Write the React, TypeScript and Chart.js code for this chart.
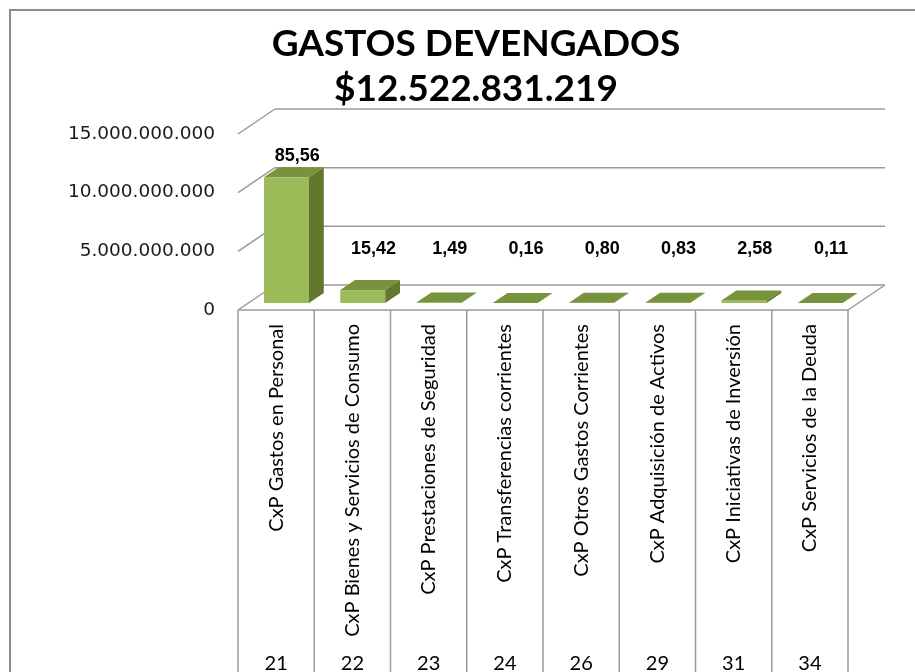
import React, { useEffect, useRef } from "react";
import { Chart, registerables } from "chart.js";

Chart.register(...registerables);

const TITLE_LINES = ["GASTOS DEVENGADOS", "$12.522.831.219"];
const CATEGORIES = [
  "CxP Gastos en Personal",
  "CxP Bienes y Servicios de Consumo",
  "CxP Prestaciones de Seguridad",
  "CxP Transferencias corrientes",
  "CxP Otros Gastos Corrientes",
  "CxP Adquisición de Activos",
  "CxP Iniciativas de Inversión",
  "CxP Servicios de la Deuda",
];
const CODES = ["21", "22", "23", "24", "26", "29", "31", "34"];
const VALUES = [10710000000, 1100000000, 50000000, 10000000, 30000000, 30000000, 220000000, 10000000];
const DATA_LABELS = ["85,56", "15,42", "1,49", "0,16", "0,80", "0,83", "2,58", "0,11"];
const Y_MIN = 0;
const Y_MAX = 15000000000;
const Y_STEP = 5000000000;

// 3D geometry (pixels)
const DX = 37;
const DY = 25;
const F0 = 0.28;
const F1 = 0.68;

const FRONT = "#9BBB59";
const TOP = "#77933C";
const SIDE = "#63782F";
const GRID = "#9a9a9a";

function fmt(v: number): string {
  return Math.round(v).toString().replace(/\B(?=(\d{3})+(?!\d))/g, ".");
}

const depthPlugin = {
  id: "depth3d",
  beforeDraw(chart: any) {
    const { ctx } = chart;
    ctx.save();
    ctx.fillStyle = "#ffffff";
    ctx.fillRect(0, 0, chart.width, chart.height);
    ctx.restore();
  },
  beforeDatasetsDraw(chart: any) {
    const { ctx, chartArea: a, scales } = chart;
    const y = scales.y;
    const x = scales.x;
    const line = (x1: number, y1: number, x2: number, y2: number) => {
      ctx.beginPath();
      ctx.moveTo(x1, y1);
      ctx.lineTo(x2, y2);
      ctx.stroke();
    };
    ctx.save();
    ctx.strokeStyle = GRID;
    ctx.lineWidth = 1.5;
    for (let v = Y_MIN; v <= Y_MAX; v += Y_STEP) {
      const py = y.getPixelForValue(v);
      line(a.left, py, a.left + DX, py - DY);
      line(a.left + DX, py - DY, a.right + DX, py - DY);
    }
    const p0 = y.getPixelForValue(0);
    line(a.right, p0, a.right + DX, p0 - DY);
    line(a.left, p0, a.right, p0);
    const n = CATEGORIES.length;
    const w = (x.right - x.left) / n;
    for (let i = 0; i <= n; i++) {
      const px = x.left + i * w;
      line(px, p0, px, chart.height);
    }
    ctx.restore();
  },
  afterDatasetsDraw(chart: any) {
    const { ctx, scales } = chart;
    const meta = chart.getDatasetMeta(0);
    const sx = DX * (F1 - F0);
    const sy = DY * (F1 - F0);
    ctx.save();
    meta.data.forEach((bar: any, i: number) => {
      const p = bar.getProps(["x", "y", "base", "width"], true);
      const l = p.x - p.width / 2 + DX * F0;
      const r = p.x + p.width / 2 + DX * F0;
      const t = p.y - DY * F0;
      const b = p.base - DY * F0;
      ctx.fillStyle = FRONT;
      ctx.fillRect(l, t, r - l, b - t);
      ctx.fillStyle = SIDE;
      ctx.beginPath();
      ctx.moveTo(r, t);
      ctx.lineTo(r + sx, t - sy);
      ctx.lineTo(r + sx, b - sy);
      ctx.lineTo(r, b);
      ctx.closePath();
      ctx.fill();
      ctx.fillStyle = TOP;
      ctx.beginPath();
      ctx.moveTo(l, t);
      ctx.lineTo(r, t);
      ctx.lineTo(r + sx, t - sy);
      ctx.lineTo(l + sx, t - sy);
      ctx.closePath();
      ctx.fill();

      // data label
      const lx = p.x + DX * 0.57;
      const ly = Math.min(t - sy - 11, scales.y.getPixelForValue(Y_STEP) - 2);
      ctx.fillStyle = "#000000";
      ctx.font = "bold 18px 'Liberation Sans', Arial, sans-serif";
      ctx.textAlign = "center";
      ctx.textBaseline = "middle";
      ctx.fillText(DATA_LABELS[i], lx, ly);
    });
    ctx.restore();
  },
  afterDraw(chart: any) {
    const { ctx } = chart;
    ctx.save();
    // outer border
    ctx.strokeStyle = "#8c8c8c";
    ctx.lineWidth = 2;
    ctx.beginPath();
    ctx.moveTo(10, chart.height + 2);
    ctx.lineTo(10, 10);
    ctx.lineTo(chart.width + 2, 10);
    ctx.stroke();
    // title
    ctx.fillStyle = "#000000";
    ctx.textAlign = "center";
    ctx.textBaseline = "alphabetic";
    ctx.font = "bold 37px Lato, 'Open Sans', sans-serif";
    ctx.fillText(TITLE_LINES[0], 476, 56);
    ctx.fillText(TITLE_LINES[1], 476, 101);
    ctx.restore();
  },
};

export default function App() {
  const ref = useRef<HTMLCanvasElement | null>(null);
  useEffect(() => {
    if (!ref.current) return;
    const chart = new Chart(ref.current, {
      type: "bar",
      data: {
        labels: CATEGORIES,
        datasets: [
          {
            data: VALUES,
            backgroundColor: "rgba(0,0,0,0)",
            borderWidth: 0,
            categoryPercentage: 1,
            barPercentage: 0.59,
          },
        ],
      },
      options: {
        animation: false,
        responsive: false,
        events: [],
        layout: { padding: { top: 134, right: 67, left: 0, bottom: 0 } },
        plugins: {
          legend: { display: false },
          tooltip: { enabled: false },
          title: { display: false },
        },
        scales: {
          x: {
            type: "category",
            position: "bottom",
            weight: 0,
            offset: true,
            grid: { display: false, drawTicks: false },
            border: { display: false },
            ticks: {
              autoSkip: false,
              minRotation: 90,
              maxRotation: 90,
              padding: 14,
              color: "#000000",
              font: { family: "Lato, 'Open Sans', sans-serif", size: 20 },
            },
            afterFit: (s: any) => {
              s.height = 330;
            },
          },
          x2: {
            type: "category",
            position: "bottom",
            weight: 1,
            offset: true,
            labels: CODES,
            grid: { display: false, drawTicks: false },
            border: { display: false },
            ticks: {
              autoSkip: false,
              maxRotation: 0,
              minRotation: 0,
              padding: 12,
              color: "#000000",
              font: { family: "Lato, 'Open Sans', sans-serif", size: 20 },
            },
            afterFit: (s: any) => {
              s.height = 32;
            },
          },
          y: {
            min: Y_MIN,
            max: Y_MAX,
            grid: { display: false, drawTicks: false },
            border: { display: false },
            ticks: {
              stepSize: Y_STEP,
              padding: 23,
              color: "#1a1a1a",
              font: { family: "'DejaVu Sans', sans-serif", size: 18.5 },
              callback: (v: any) => fmt(Number(v)),
            },
            afterFit: (s: any) => {
              s.width = 238;
            },
          },
        },
      },
      plugins: [depthPlugin],
    } as any);
    return () => chart.destroy();
  }, []);
  return (
    <div style={{ position: "absolute", left: 0, top: 0, width: 915, height: 672, overflow: "hidden" }}>
      <canvas ref={ref} width={915} height={672} style={{ display: "block" }} />
    </div>
  );
}
